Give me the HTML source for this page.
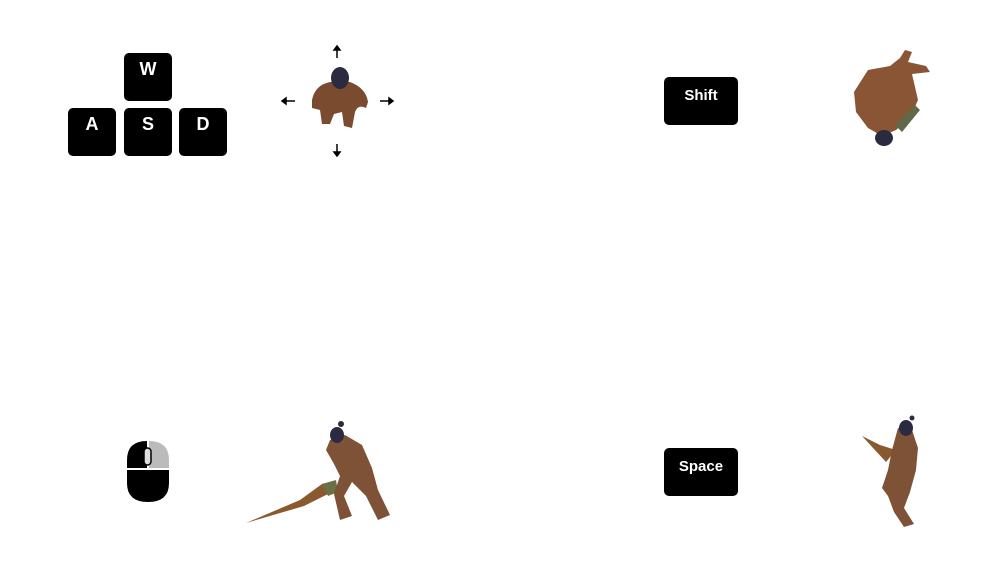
<!DOCTYPE html>
<html><head><meta charset="utf-8"><style>
html,body{margin:0;padding:0;background:#fff;width:1001px;height:574px;overflow:hidden;position:relative;font-family:"Liberation Sans",sans-serif}
.key{position:absolute;background:#000;color:#fff;border-radius:5px;font-weight:bold;display:flex;align-items:center;justify-content:center;font-size:18px}
svg{position:absolute;left:0;top:0}
</style></head><body>
<div class="key" style="left:124px;top:53px;width:48px;height:48px;align-items:flex-start;padding-top:0"><span style="margin-top:6px">W</span></div>
<div class="key" style="left:68px;top:108px;width:48px;height:48px;align-items:flex-start"><span style="margin-top:6px">A</span></div>
<div class="key" style="left:124px;top:108px;width:48px;height:48px;align-items:flex-start"><span style="margin-top:6px">S</span></div>
<div class="key" style="left:179px;top:108px;width:48px;height:48px;align-items:flex-start"><span style="margin-top:6px">D</span></div>
<div class="key" style="left:664px;top:77px;width:74px;height:48px;font-size:15px;align-items:flex-start"><span style="margin-top:10px">Shift</span></div>
<div class="key" style="left:664px;top:448px;width:74px;height:48px;font-size:15px;align-items:flex-start"><span style="margin-top:10px">Space</span></div>
<svg width="1001" height="574">
<g stroke="#000" stroke-width="1.5" fill="#000">
<line x1="337" y1="49" x2="337" y2="58"/><polygon points="334,50 340,50 337,46"/>
<line x1="337" y1="144" x2="337" y2="153"/><polygon points="334,152 340,152 337,156"/>
<line x1="285" y1="101" x2="295" y2="101"/><polygon points="286,98 286,104 282,101"/>
<line x1="380" y1="101" x2="390" y2="101"/><polygon points="389,98 389,104 393,101"/>
</g>
<g>
<path d="M312,100 Q315,85 330,82 L350,82 Q366,88 368,102 L366,108 Q358,104 355,112 L352,128 L344,126 L342,112 L334,114 L330,124 L322,124 L320,110 L312,108 Z" fill="#7a4b2e"/>
<ellipse cx="340" cy="78" rx="9" ry="11" fill="#2a2a40"/>
</g>
<g>
<path d="M868,70 L890,66 L900,58 L905,50 L912,52 L908,62 L926,66 L930,72 L912,74 L918,100 L910,118 L896,130 L882,136 L868,128 L856,112 L854,92 Z" fill="#8a5535"/>
<ellipse cx="884" cy="138" rx="9" ry="8" fill="#2a2a40"/>
<path d="M895,125 L915,105 L920,110 L902,132 Z" fill="#5e6a4a"/>
</g>
<g>
<path d="M127,470 L127,483 Q127,502 148,502 Q169,502 169,483 L169,470 Z" fill="#000"/>
<path d="M127,468 L127,460 Q127,441 147,441 L147,468 Z" fill="#000"/>
<path d="M149,441 Q169,441 169,460 L169,468 L149,468 Z" fill="#bbb"/>
<rect x="144" y="448" width="7" height="17" rx="3.5" fill="#ddd" stroke="#000" stroke-width="1.5"/>
</g>
<g>
<path d="M246,523 L300,500 L322,484 L330,482 L328,494 L304,506 Z" fill="#8a5a2e"/>
<path d="M322,484 L336,480 L338,492 L328,496 Z" fill="#6b6f45"/>
<path d="M330,440 L345,435 L362,445 L372,468 L378,490 L390,515 L378,520 L366,496 L352,482 L344,496 L352,516 L340,520 L334,494 L340,476 L334,464 L326,450 Z" fill="#7e5236"/>
<ellipse cx="337" cy="435" rx="7" ry="8" fill="#2a2a40"/>
<circle cx="341" cy="424" r="3" fill="#2a2a40"/>
</g>
<g>
<path d="M862,436 L880,445 L896,450 L886,462 Z" fill="#8a5a2e"/>
<path d="M898,428 L912,430 L918,448 L916,470 L910,492 L904,508 L914,524 L904,527 L894,512 L888,496 L882,488 L888,470 L892,450 Z" fill="#7e5236"/>
<ellipse cx="906" cy="428" rx="7" ry="8" fill="#2a2a40"/>
<circle cx="912" cy="418" r="2.5" fill="#2a2a40"/>
</g>
</svg>
</body></html>
